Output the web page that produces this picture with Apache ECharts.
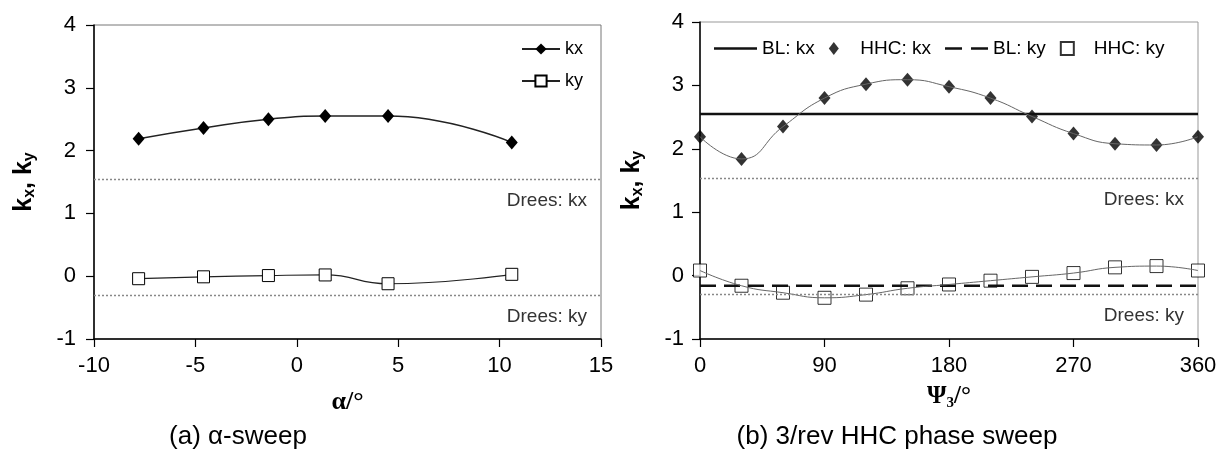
<!DOCTYPE html>
<html>
<head>
<meta charset="utf-8">
<script src="https://cdn.jsdelivr.net/npm/echarts@6/dist/echarts.min.js"></script>
<style>
  html, body { margin: 0; padding: 0; background: #fff; }
  #chart { width: 1230px; height: 452px; }
</style>
</head>
<body>
<div id="chart"></div>
<script>
// (a) angle-of-attack sweep
const alphaDeg = [-7.8, -4.6, -1.4, 1.4, 4.5, 10.6];
const alphaKx  = [2.19, 2.36, 2.50, 2.55, 2.55, 2.13];
const alphaKy  = [-0.04, -0.01, 0.01, 0.02, -0.12, 0.03];

// (b) 3/rev HHC phase sweep
const psiDeg = [0, 30, 60, 90, 120, 150, 180, 210, 240, 270, 300, 330, 360];
const hhcKx  = [2.19, 1.84, 2.35, 2.80, 3.02, 3.09, 2.98, 2.80, 2.51, 2.24, 2.08, 2.06, 2.19];
const hhcKy  = [0.08, -0.16, -0.27, -0.35, -0.30, -0.20, -0.14, -0.08, -0.02, 0.04, 0.13, 0.15, 0.08];

// baseline (no HHC) and Drees model reference values
const blKx = 2.55;
const blKy = -0.16;
const dreesKx = 1.54;
const dreesKy = -0.30;

// axis ranges
const alphaRange = [-10, 15];
const psiRange = [0, 360];
const kRange = [-1, 4];

const SANS = '"Liberation Sans", Arial, sans-serif';
const SERIF = '"Liberation Serif", "Times New Roman", serif';

const pairs = (xs, ys) => xs.map((x, i) => [x, ys[i]]);

// legend glyphs
const diamondIcon = 'path://M5,0L10,6.5L5,13L0,6.5Z';
const squareIcon = 'path://M0,0L12,0L12,12L0,12Z';
const solidIcon = 'path://M0,0L43,0L43,2.6L0,2.6Z';
const dashedIcon = 'path://M0,0L17,0L17,2.6L0,2.6Z M26,0L43,0L43,2.6L26,2.6Z';

function dreesMarkLine() {
  const lbl = (txt) => ({
    show: true,
    formatter: txt,
    position: 'insideEndBottom',
    distance: [14, 12],
    color: '#333',
    fontFamily: SANS,
    fontSize: 19
  });
  return {
    silent: true,
    symbol: 'none',
    lineStyle: { color: '#888', width: 1.3, type: [2, 2] },
    data: [
      { yAxis: dreesKx, label: lbl('Drees: kx') },
      { yAxis: dreesKy, label: lbl('Drees: ky') }
    ]
  };
}

const yName = '{k|k}{s|x}{k|, k}{s|y}';
const yNameStyle = {
  rich: {
    k: { fontFamily: SANS, fontWeight: 'bold', fontSize: 25, lineHeight: 28, verticalAlign: 'middle', color: '#000' },
    s: { fontFamily: SANS, fontWeight: 'bold', fontSize: 16, lineHeight: 16, verticalAlign: 'bottom', color: '#000' }
  }
};

function valueAxis(extra) {
  return Object.assign({
    type: 'value',
    axisLine: { show: true, onZero: false, lineStyle: { color: '#000', width: 1.5 } },
    axisTick: { show: true, inside: false, length: 8, lineStyle: { color: '#000', width: 1.2 } },
    axisLabel: { color: '#000', fontFamily: SANS, fontSize: 22 },
    splitLine: { show: false }
  }, extra);
}

const option = {
  backgroundColor: '#fff',
  animation: false,
  grid: [
    { left: 94, top: 25, width: 507, height: 314, show: true, borderColor: '#777', borderWidth: 1 },
    { left: 700, top: 22, width: 498, height: 317, show: true, borderColor: '#999', borderWidth: 1 }
  ],
  xAxis: [
    valueAxis({
      gridIndex: 0, min: alphaRange[0], max: alphaRange[1], interval: 5,
      axisLabel: { color: '#000', fontFamily: SANS, fontSize: 22, margin: 16 },
      name: 'α/°', nameLocation: 'middle', nameGap: 50,
      nameTextStyle: { fontFamily: SERIF, fontWeight: 'bold', fontSize: 26, color: '#000' }
    }),
    valueAxis({
      gridIndex: 1, min: psiRange[0], max: psiRange[1], interval: 90,
      axisLabel: { color: '#000', fontFamily: SANS, fontSize: 22, margin: 16 },
      name: '{p|Ψ}{s|3}{p|/°}', nameLocation: 'middle', nameGap: 44,
      nameTextStyle: {
        rich: {
          p: { fontFamily: SERIF, fontWeight: 'bold', fontSize: 25, lineHeight: 28, verticalAlign: 'middle', color: '#000' },
          s: { fontFamily: SERIF, fontWeight: 'bold', fontSize: 15, lineHeight: 15, verticalAlign: 'bottom', color: '#000' }
        }
      }
    })
  ],
  yAxis: [
    valueAxis({
      gridIndex: 0, min: kRange[0], max: kRange[1], interval: 1,
      axisLabel: { color: '#000', fontFamily: SANS, fontSize: 22, margin: 18 },
      name: yName, nameLocation: 'middle', nameGap: 56, nameRotate: 90,
      nameTextStyle: yNameStyle
    }),
    valueAxis({
      gridIndex: 1, min: kRange[0], max: kRange[1], interval: 1,
      axisLabel: { color: '#000', fontFamily: SANS, fontSize: 22, margin: 16 },
      name: yName, nameLocation: 'middle', nameGap: 54, nameRotate: 90,
      nameTextStyle: yNameStyle
    })
  ],
  legend: [
    {
      orient: 'vertical',
      left: 516, top: 35,
      itemWidth: 38, itemHeight: 14, itemGap: 14,
      textStyle: { fontFamily: SANS, fontSize: 18, color: '#000' },
      data: ['kx', 'ky']
    },
    {
      orient: 'horizontal',
      left: 709, top: 34,
      itemWidth: 43, itemHeight: 13, itemGap: 14,
      textStyle: { fontFamily: SANS, fontSize: 19, color: '#000' },
      data: [
        { name: 'BL: kx', icon: solidIcon },
        { name: 'HHC: kx', icon: diamondIcon },
        { name: 'BL: ky', icon: dashedIcon },
        { name: 'HHC: ky', icon: squareIcon }
      ]
    }
  ],
  series: [
    // ---- (a) α-sweep ----
    {
      name: 'kx', type: 'line', xAxisIndex: 0, yAxisIndex: 0,
      data: pairs(alphaDeg, alphaKx),
      smooth: 0.5,
      symbol: 'diamond', symbolSize: [12, 14],
      lineStyle: { color: '#222', width: 1.5 },
      itemStyle: { color: '#000' },
      markLine: dreesMarkLine()
    },
    {
      name: 'ky', type: 'line', xAxisIndex: 0, yAxisIndex: 0,
      data: pairs(alphaDeg, alphaKy),
      smooth: 0.5,
      symbol: 'rect', symbolSize: 12,
      lineStyle: { color: '#222', width: 1.2 },
      itemStyle: { color: '#fff', borderColor: '#000', borderWidth: 1 }
    },
    // ---- (b) 3/rev HHC phase sweep ----
    {
      name: 'BL: kx', type: 'line', xAxisIndex: 1, yAxisIndex: 1,
      data: [[psiRange[0], blKx], [psiRange[1], blKx]],
      symbol: 'none',
      itemStyle: { color: '#111' },
      lineStyle: { color: '#111', width: 2.6 },
      markLine: dreesMarkLine()
    },
    {
      name: 'BL: ky', type: 'line', xAxisIndex: 1, yAxisIndex: 1,
      data: [[psiRange[0], blKy], [psiRange[1], blKy]],
      symbol: 'none',
      itemStyle: { color: '#111' },
      lineStyle: { color: '#111', width: 2.6, type: [16, 8] }
    },
    {
      name: 'HHC: kx fit', type: 'line', xAxisIndex: 1, yAxisIndex: 1,
      data: pairs(psiDeg, hhcKx),
      smooth: 0.5, symbol: 'none', silent: true,
      lineStyle: { color: '#666', width: 1 }
    },
    {
      name: 'HHC: ky fit', type: 'line', xAxisIndex: 1, yAxisIndex: 1,
      data: pairs(psiDeg, hhcKy),
      smooth: 0.5, symbol: 'none', silent: true,
      lineStyle: { color: '#666', width: 1 }
    },
    {
      name: 'HHC: kx', type: 'scatter', xAxisIndex: 1, yAxisIndex: 1,
      data: pairs(psiDeg, hhcKx),
      symbol: 'diamond', symbolSize: [12, 14],
      itemStyle: { color: '#000' }
    },
    {
      name: 'HHC: ky', type: 'scatter', xAxisIndex: 1, yAxisIndex: 1,
      data: pairs(psiDeg, hhcKy),
      symbol: 'rect', symbolSize: 13,
      itemStyle: { color: '#fff', borderColor: '#000', borderWidth: 1 }
    }
  ],
  graphic: [
    {
      type: 'text', x: 238, y: 437,
      style: { text: '(a) α-sweep', fontFamily: SANS, fontSize: 26, fill: '#000', align: 'center', verticalAlign: 'middle' }
    },
    {
      type: 'text', x: 897, y: 437,
      style: { text: '(b) 3/rev HHC phase sweep', fontFamily: SANS, fontSize: 26, fill: '#000', align: 'center', verticalAlign: 'middle' }
    }
  ]
};

const chart = echarts.init(document.getElementById('chart'), null, { renderer: 'canvas' });
chart.setOption(option);
</script>
</body>
</html>
